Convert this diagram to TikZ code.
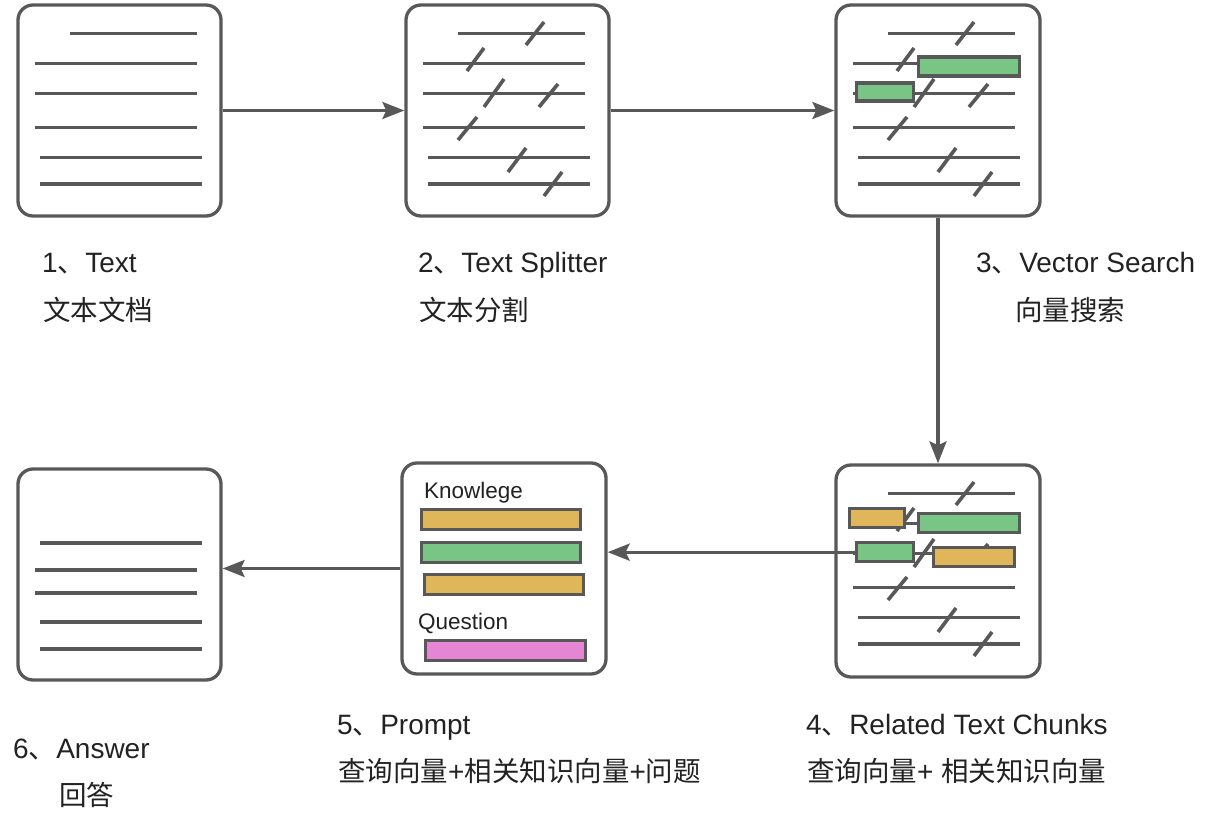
\documentclass[tikz,border=0pt]{standalone}
\usepackage{fontspec}
\setmainfont{Liberation Sans}
\newfontfamily\cjkfont{Noto Sans CJK SC}
\newcommand\cjktext[1]{{\cjkfont\fontsize{27.5}{32}\selectfont #1}}
\usetikzlibrary{arrows.meta}
\definecolor{edge}{HTML}{585858}
\definecolor{txt}{HTML}{222222}
\definecolor{gbar}{HTML}{79C586}
\definecolor{obar}{HTML}{E0B65B}
\definecolor{pbar}{HTML}{E486D4}
\begin{document}
\begin{tikzpicture}[x=1pt,y=-1pt,
  docbox/.style={draw=edge, line width=3.3pt, rounded corners=15pt, fill=white,
    minimum width=203pt, minimum height=211pt, inner sep=0pt},
  txtline/.style={draw=edge, line width=3.2pt},
  slashline/.style={draw=edge, line width=3.6pt},
  bar/.style={draw=edge, line width=3.3pt, inner sep=0pt, anchor=north west},
  flow/.style={draw=edge, line width=3.2pt, -{Stealth[length=22pt,width=17pt,inset=4pt]}},
  lbl/.style={anchor=base west, inner sep=0pt, text=txt, font=\fontsize{28}{32}\selectfont},
  inlbl/.style={anchor=base west, inner sep=0pt, text=txt, font=\fontsize{22.5}{26}\selectfont}
]
\useasboundingbox (0,0) rectangle (1229,832);

% boxes
\node[docbox] (b1) at (119.5,110.5) {};
\node[docbox] (b2) at (507.5,110.5) {};
\node[docbox, minimum width=204pt] (b3) at (938,110.5) {};
\node[docbox, minimum width=204pt, minimum height=212pt] (b4) at (938,571) {};
\node[docbox, minimum width=204pt] (b5) at (504,568.5) {};
\node[docbox] (b6) at (119.5,574.5) {};

% text lines pattern
\newcommand\plainlines{%
  \draw[txtline] (52,28.3) -- (179,28.3);
  \draw[txtline] (17,58.3) -- (179,58.3);
  \draw[txtline] (17,88.3) -- (179,88.3);
  \draw[txtline] (17,122.7) -- (179,122.7);
  \draw[txtline] (22,152.3) -- (184,152.3);
  \draw[txtline] (22,179) -- (184,179);
}
\newcommand\slashes{%
  \draw[slashline] (120,40) -- (138,17);
  \draw[slashline] (61,66) -- (78,43);
  \draw[slashline] (78,102) -- (98,74);
  \draw[slashline] (133,102) -- (152,79);
  \draw[slashline] (52,135) -- (71,112);
  \draw[slashline] (102,167) -- (120,143);
  \draw[slashline] (138,191) -- (156,167);
}
\begin{scope}[shift={(18,5)}]\plainlines\end{scope}
\begin{scope}[shift={(406,5)}]\plainlines\slashes\end{scope}
\begin{scope}[shift={(836,5)}]\plainlines\slashes\end{scope}
\begin{scope}[shift={(836,465)}]\plainlines\slashes\end{scope}

% box 6 lines
\begin{scope}[shift={(18,469)}]
  \draw[txtline] (22,74) -- (184,74);
  \draw[txtline] (17,101) -- (179,101);
  \draw[txtline] (17,124) -- (179,124);
  \draw[txtline] (22,153) -- (184,153);
  \draw[txtline] (22,180) -- (184,180);
\end{scope}

% bars in box 3
\node[bar, fill=gbar, minimum width=101pt, minimum height=19pt] (g3a) at (916.5,55.5) {};
\node[bar, fill=gbar, minimum width=57pt, minimum height=18pt] (g3b) at (854.5,81.5) {};

% bars in box 4
\node[bar, fill=obar, minimum width=55pt, minimum height=19pt] (o4a) at (847.5,506.5) {};
\node[bar, fill=gbar, minimum width=101pt, minimum height=19pt] (g4a) at (916.5,511.5) {};
\node[bar, fill=gbar, minimum width=57pt, minimum height=19pt] (g4b) at (854.5,541) {};
\node[bar, fill=obar, minimum width=81pt, minimum height=19pt] (o4b) at (932,545.5) {};

% bars in box 5
\node[inlbl] (know) at (424,498) {Knowlege};
\node[bar, fill=obar, minimum width=159pt, minimum height=20pt] (o5a) at (420,507.5) {};
\node[bar, fill=gbar, minimum width=159pt, minimum height=20pt] (g5) at (420,541) {};
\node[bar, fill=obar, minimum width=159pt, minimum height=20pt] (o5b) at (422.5,572.5) {};
\node[inlbl] (quest) at (418,629) {Question};
\node[bar, fill=pbar, minimum width=160pt, minimum height=20pt] (p5) at (424,639) {};

% connectors
\draw[flow] (b1.east) -- (b2.west);
\draw[flow] (b2.east) -- (b3.west);
\draw[flow] (b3.south) -- (b4.north);
\draw[flow] (g4b.west) -- (g4b.west -| b5.east);
\draw[flow] (b5.west) -- (b5.west -| b6.east);

% labels
\node[lbl] (l1a) at (42,272) {1\cjktext{、}Text};
\node[lbl] (l1b) at (43,320) {\cjktext{文本文档}};
\node[lbl] (l2a) at (418,272) {2\cjktext{、}Text Splitter};
\node[lbl] (l2b) at (419,320) {\cjktext{文本分割}};
\node[lbl] (l3a) at (976,272) {3\cjktext{、}Vector Search};
\node[lbl] (l3b) at (1015,320) {\cjktext{向量搜索}};
\node[lbl] (l5a) at (337,734) {5\cjktext{、}Prompt};
\node[lbl] (l5b) at (338,781) {\cjktext{查询向量}+\cjktext{相关知识向量}+\cjktext{问题}};
\node[lbl] (l4a) at (806,734) {4\cjktext{、}Related Text Chunks};
\node[lbl] (l4b) at (807,781) {\cjktext{查询向量}+ \cjktext{相关知识向量}};
\node[lbl] (l6a) at (13,758) {6\cjktext{、}Answer};
\node[lbl] (l6b) at (59,805) {\cjktext{回答}};
\end{tikzpicture}
\end{document}
